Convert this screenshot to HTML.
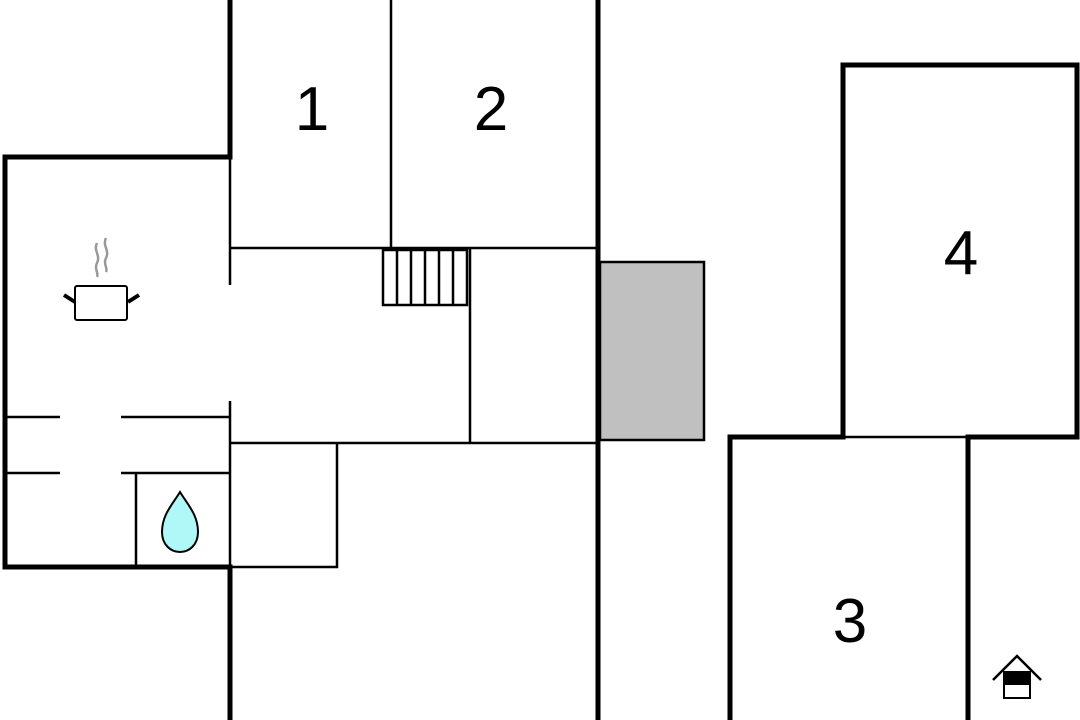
<!DOCTYPE html>
<html><head><style>html,body{margin:0;padding:0;background:#fff}svg{display:block}</style></head><body>
<svg width="1080" height="720" viewBox="0 0 1080 720" xmlns="http://www.w3.org/2000/svg">
<g stroke="#000" stroke-width="5" fill="none" stroke-linecap="square">
<path d="M230 0V157H5V567H230V720"/>
<path d="M598 0V720"/>
<path d="M843 437V65H1077V437H968V720"/>
<path d="M843 437H730V720"/>
</g>
<g stroke="#000" stroke-width="2.5" fill="none">
<path d="M391 0V248"/>
<path d="M230 248H598"/>
<path d="M230 157V285M230 401V567"/>
<path d="M470 248V443"/>
<path d="M230 443H598"/>
<path d="M337 443V567H230"/>
<path d="M5 417H60M121 417H230M5 473H60M121 473H230M136 473V567"/>
<path d="M843 437H968"/>
<rect x="383" y="250" width="84" height="55"/>
<path d="M397 250V305M411 250V305M425 250V305M439 250V305M453 250V305"/>
</g>
<rect x="600" y="262" width="104" height="178" fill="#c0c0c0" stroke="#000" stroke-width="2.5"/>
<g font-family="Liberation Sans, sans-serif" font-size="62" text-anchor="middle" fill="#000">
<text x="312" y="130">1</text>
<text x="491" y="130">2</text>
<text x="961" y="274">4</text>
<text x="850" y="642">3</text>
</g>
<g stroke="#999" stroke-width="2.5" fill="none">
<path d="M97 243c-4 8 4 12 0 20c-3 6 2 10 0 14"/>
<path d="M106 238c-4 8 4 12 0 20c-3 6 2 10 0 14"/>
</g>
<g stroke="#000" stroke-width="2" fill="#fff">
<rect x="75" y="286" width="52" height="34" rx="2"/>
</g>
<path d="M64 295L75 302M139 295L128 302" stroke="#000" stroke-width="4"/>
<path d="M180 492C172 505 162 515 162 532C162 545 171 552 180 552C189 552 198 545 198 532C198 515 188 505 180 492Z" fill="#b0f8f8" stroke="#000" stroke-width="2"/>
<path d="M993 680L1017 656L1041 680" stroke="#000" stroke-width="2.5" fill="none"/>
<rect x="1004" y="672" width="26" height="26" fill="#fff" stroke="#000" stroke-width="2"/>
<rect x="1004" y="672" width="26" height="13" fill="#000"/>
</svg>
</body></html>
